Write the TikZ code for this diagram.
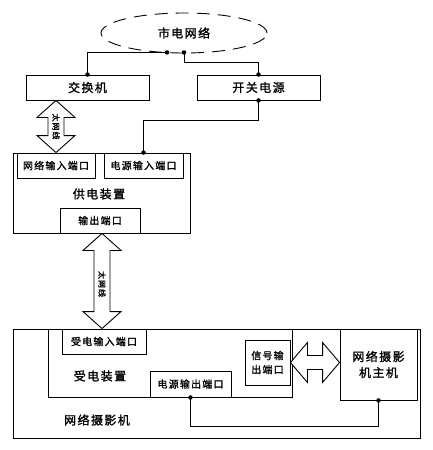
\documentclass[tikz,border=0pt]{standalone}
\usepackage{fontspec}
\newfontfamily\cjk{Noto Sans CJK SC}[LetterSpace=12, AutoFakeBold=1.2]
\usetikzlibrary{positioning, calc, shapes.geometric}

\tikzset{
  box/.style={draw, line width=0.9pt, inner sep=0pt, align=center, font=\cjk\bfseries\fontsize{12}{16}\selectfont},
  port/.style={box, minimum height=25pt, font=\cjk\bfseries\fontsize{10}{14}\selectfont},
  title/.style={font=\cjk\bfseries\fontsize{12}{16}\selectfont},
  wire/.style={line width=0.9pt},
  junction/.style={circle, fill, inner sep=0pt, minimum size=4.5pt},
  cable/.style={font=\cjk\bfseries\fontsize{8}{9}\selectfont, rotate=-90, inner sep=0pt}
}

% vertical double arrow between two points
\newcommand{\vdarrow}[2]{%
  \draw[wire, fill=white] let \p1=(#1), \p2=(#2) in
    (\p1) -- (\x1+19pt,\y1-17pt) -- (\x1+8pt,\y1-17pt) -- (\x1+8pt,\y2+17pt)
    -- (\x1+19pt,\y2+17pt) -- (\x1,\y2) -- (\x1-19pt,\y2+17pt) -- (\x1-8pt,\y2+17pt)
    -- (\x1-8pt,\y1-17pt) -- (\x1-19pt,\y1-17pt) -- cycle;}
% horizontal double arrow between two points
\newcommand{\hdarrow}[2]{%
  \draw[wire, fill=white] let \p1=(#1), \p2=(#2) in
    (\p1) -- (\x1+17pt,\y1+20pt) -- (\x1+17pt,\y1+7pt) -- (\x2-17pt,\y1+7pt)
    -- (\x2-17pt,\y1+20pt) -- (\x2,\y1) -- (\x2-17pt,\y1-20pt) -- (\x2-17pt,\y1-7pt)
    -- (\x1+17pt,\y1-7pt) -- (\x1+17pt,\y1-20pt) -- cycle;}

\begin{document}
\begin{tikzpicture}[x=1pt, y=-1pt]
\useasboundingbox (0,0) rectangle (432,450);

% mains grid
\node[ellipse, draw, dash pattern=on 13pt off 8pt, line width=0.9pt,
  minimum width=166pt, minimum height=40pt, title] (grid) at (184,33) {市电网络};
\coordinate (tapsw) at ($(grid.south)+(-17,-1)$);
\coordinate (tappsu) at ($(grid.south)+(0,-1)$);

% switch and power supply
\node[box, minimum width=123pt, minimum height=25pt] (sw) at (87.5,87.5) {交换机};
\node[box, minimum width=123pt, minimum height=25pt] (psu) at (258.5,87.5) {开关电源};

% power sourcing device
\node[box, minimum width=177pt, minimum height=80pt] (pse) at (101.5,193) {};
\node[title] at (99,194) {供电装置};
\node[port, minimum width=78pt] (netin) at (56,165.5) {网络输入端口};
\node[port, minimum width=79pt] (pwrin) at (143.5,165.5) {电源输入端口};
\node[port, minimum width=80pt] (out) at (100,220.5) {输出端口};

% network camera
\node[box, minimum width=407pt, minimum height=109pt] (cam) at (216.5,383.5) {};
\node[title] at (97,420) {网络摄影机};
\node[box, minimum width=244pt, minimum height=68pt] (pd) at (170,363) {};
\node[title] at (100,376) {受电装置};
\node[port, minimum width=84pt] (pdin) at (104,341.5) {受电输入端口};
\node[port, minimum width=81pt, minimum height=26pt] (pwrout) at (190.5,384) {电源输出端口};
\node[port, minimum width=45pt, minimum height=45pt] (sigout) at (267.5,362.5) {信号输\\出端口};
\node[box, minimum width=77pt, minimum height=71pt] (host) at (378.5,364.5) {网络摄影\\机主机};

% wiring
\draw[wire] (tapsw) -| (sw.north);
\draw[wire] (tappsu) -- ++(0,10) -| (psu.north);
\draw[wire] (psu.south) -- ++(0,20) -| (pwrin.north);
\draw[wire] (pwrout.south) -- ++(0,29) -| (host.south);
\foreach \p in {tapsw, tappsu, sw.north, psu.north, psu.south, pwrin.north, pwrout.south, host.south}
  \node[junction] at (\p) {};

% cables
\vdarrow{sw.south -| netin.north}{netin.north}
\node[cable] at ($(sw.south -| netin.north)!0.5!(netin.north)$) {太网线};
\coordinate (lantop) at ($(out.south)+(2,0)$);
\vdarrow{lantop}{lantop |- cam.north}
\node[cable] at ($(lantop)!0.5!(lantop |- cam.north)+(0,3)$) {太网线};
\hdarrow{sigout.east}{host.west |- sigout.east}
\end{tikzpicture}
\end{document}
